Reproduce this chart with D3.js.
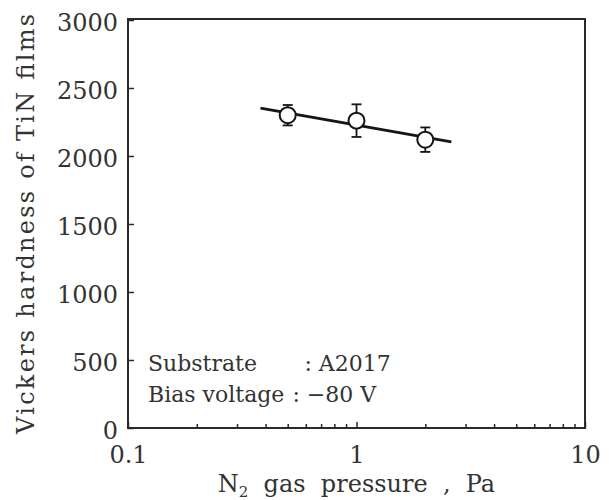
<!DOCTYPE html>
<html>
<head>
<meta charset="utf-8">
<script src="https://cdn.jsdelivr.net/npm/d3@7/dist/d3.min.js"></script>
<style>
  html, body { margin: 0; padding: 0; background: #fff; }
  svg { display: block; }
  text { font-family: "DejaVu Serif", "Liberation Serif", serif; fill: #333; }
</style>
</head>
<body>
<svg id="chart" width="611" height="500"></svg>
<script>
// Measured hardness of TiN films versus N2 gas pressure
const pressure = [0.5, 1, 2];            // Pa
const hardness = [2300, 2260, 2120];     // HV
const hardnessErr = [75, 120, 90];       // ± HV

// Least-squares trend line (end points in Pa / HV)
const fitPressure = [0.38, 2.6];
const fitHardness = [2352, 2104];

// Axis ticks
const xTicks = [0.1, 1, 10];
const xTickLabels = ["0.1", "1", "10"];
const xMinorTicks = [0.2, 0.3, 0.4, 0.5, 0.6, 0.7, 0.8, 0.9, 2, 3, 4, 5, 6, 7, 8, 9];
const yTicks = [0, 500, 1000, 1500, 2000, 2500, 3000];
const yTickLabels = ["0", "500", "1000", "1500", "2000", "2500", "3000"];

// Annotation lines
const noteKeys = ["Substrate", "Bias voltage"];
const noteValues = [": A2017", ": \u221280 V"];

const svg = d3.select("#chart");
const plotLeft = 128, plotRight = 585, plotTop = 20, plotBottom = 428;

const x = d3.scaleLog().domain([0.1, 10]).range([plotLeft, plotRight]);
const y = d3.scaleLinear().domain([0, 3000]).range([plotBottom, plotTop]);

const ink = "#151515";
const frameInk = "#2a2a2a";
const textInk = "#333";

// Frame
svg.append("rect")
  .attr("x", plotLeft).attr("y", plotTop - 1)
  .attr("width", plotRight - plotLeft).attr("height", plotBottom - plotTop + 1)
  .attr("fill", "none").attr("stroke", frameInk).attr("stroke-width", 2);

// Left axis (ticks point inward)
const yAxis = svg.append("g")
  .attr("transform", `translate(${plotLeft},0)`)
  .call(d3.axisLeft(y).tickValues(yTicks)
    .tickFormat((d, i) => yTickLabels[i])
    .tickSizeInner(-6).tickSizeOuter(0).tickPadding(10));
yAxis.select(".domain").remove();
yAxis.selectAll(".tick line").attr("stroke", frameInk).attr("stroke-width", 1.5);
yAxis.selectAll(".tick text")
  .attr("font-size", 24).attr("dy", "0.42em")
  .style("font-family", "'DejaVu Serif', serif").attr("fill", textInk);

// Bottom axis: major ticks with labels
const xAxis = svg.append("g")
  .attr("transform", `translate(0,${plotBottom})`)
  .call(d3.axisBottom(x).tickValues(xTicks)
    .tickFormat((d, i) => xTickLabels[i])
    .tickSizeInner(-6).tickSizeOuter(0).tickPadding(18));
xAxis.select(".domain").remove();
xAxis.selectAll(".tick line").attr("stroke", frameInk).attr("stroke-width", 1.5);
xAxis.selectAll(".tick text")
  .attr("font-size", 24)
  .style("font-family", "'DejaVu Serif', serif").attr("fill", textInk);

// Bottom axis: minor ticks
const xMinor = svg.append("g")
  .attr("transform", `translate(0,${plotBottom})`)
  .call(d3.axisBottom(x).tickValues(xMinorTicks)
    .tickFormat("").tickSizeInner(-4).tickSizeOuter(0));
xMinor.select(".domain").remove();
xMinor.selectAll(".tick line").attr("stroke", frameInk).attr("stroke-width", 1.5);

// Axis titles
svg.append("text")
  .attr("transform", `translate(26,${(plotTop + plotBottom) / 2}) rotate(-90)`)
  .attr("text-anchor", "middle").attr("dy", "0.35em")
  .attr("font-size", 24)
  .attr("textLength", 420).attr("lengthAdjust", "spacing")
  .text("Vickers hardness of TiN films");

const xt = svg.append("text")
  .attr("x", (plotLeft + plotRight) / 2).attr("y", 484)
  .attr("text-anchor", "middle").attr("dy", "0.35em")
  .attr("font-size", 24)
  .style("white-space", "pre");
xt.append("tspan").text("N");
xt.append("tspan").attr("font-size", 15).attr("dy", 5).text("2");
xt.append("tspan").attr("dy", -5).text("  gas  pressure  ,  Pa");

// Trend line
const line = d3.line().x(d => x(d[0])).y(d => y(d[1]));
svg.append("path")
  .datum(d3.zip(fitPressure, fitHardness))
  .attr("d", line)
  .attr("fill", "none").attr("stroke", ink).attr("stroke-width", 3);

// Error bars
const pts = d3.zip(pressure, hardness, hardnessErr);
const eb = svg.append("g").attr("stroke", ink).attr("stroke-width", 1.8);
eb.selectAll("line.v").data(pts).join("line").attr("class", "v")
  .attr("x1", d => x(d[0])).attr("x2", d => x(d[0]))
  .attr("y1", d => y(d[1] - d[2])).attr("y2", d => y(d[1] + d[2]));
eb.selectAll("line.cap-hi").data(pts).join("line").attr("class", "cap-hi")
  .attr("x1", d => x(d[0]) - 5).attr("x2", d => x(d[0]) + 5)
  .attr("y1", d => y(d[1] + d[2])).attr("y2", d => y(d[1] + d[2]));
eb.selectAll("line.cap-lo").data(pts).join("line").attr("class", "cap-lo")
  .attr("x1", d => x(d[0]) - 5).attr("x2", d => x(d[0]) + 5)
  .attr("y1", d => y(d[1] - d[2])).attr("y2", d => y(d[1] - d[2]));

// Open circle markers
svg.append("g").selectAll("circle").data(pts).join("circle")
  .attr("cx", d => x(d[0])).attr("cy", d => y(d[1]))
  .attr("r", 8)
  .attr("fill", "#fff").attr("stroke", ink).attr("stroke-width", 2);

// Deposition conditions: the colon of the second line follows its key
// with a small gap; the first line's colon sits a little further right.
const noteY = [363, 394];
const keyNodes = noteKeys.map((k, i) =>
  svg.append("text").attr("x", 148).attr("y", noteY[i]).attr("dy", "0.35em")
    .attr("font-size", 22).text(k));
const colonX2 = 148 + keyNodes[1].node().getComputedTextLength() + 8;
const valueX = [colonX2 + 12, colonX2];
noteValues.forEach((v, i) => {
  svg.append("text").attr("x", valueX[i]).attr("y", noteY[i]).attr("dy", "0.35em")
    .attr("font-size", 22).style("white-space", "pre").text(v);
});
</script>
</body>
</html>
